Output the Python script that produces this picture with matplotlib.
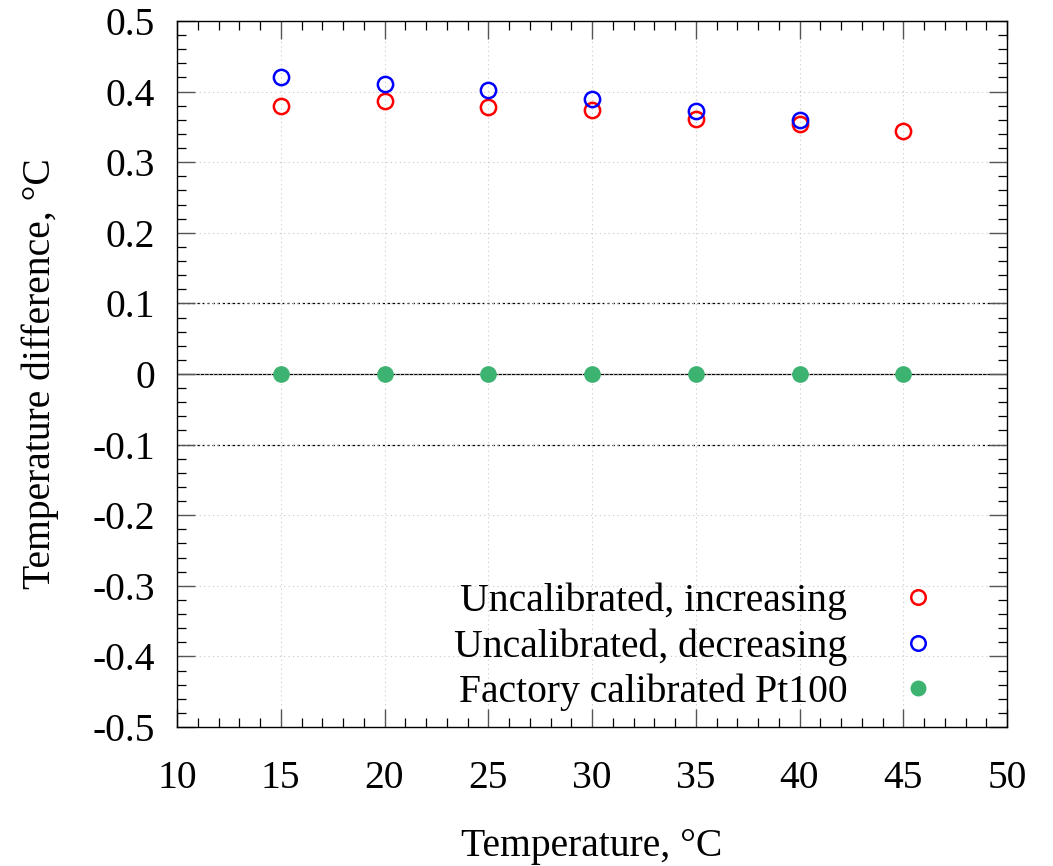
import matplotlib
matplotlib.use("Agg")
import matplotlib.pyplot as plt
from matplotlib.ticker import MultipleLocator

# ----------------------------------------------------------------------
# DATA
# ----------------------------------------------------------------------
temps = [15, 20, 25, 30, 35, 40, 45]
uncal_increasing = [0.380, 0.387, 0.378, 0.374, 0.361, 0.354, 0.344]
temps_decreasing = [15, 20, 25, 30, 35, 40]
uncal_decreasing = [0.421, 0.411, 0.402, 0.390, 0.373, 0.360]
factory_pt100 = [0, 0, 0, 0, 0, 0, 0]

labels = ["Uncalibrated, increasing", "Uncalibrated, decreasing", "Factory calibrated Pt100"]
yticks = [-0.5, -0.4, -0.3, -0.2, -0.1, 0, 0.1, 0.2, 0.3, 0.4, 0.5]
ytick_labels = ["-0.5", "-0.4", "-0.3", "-0.2", "-0.1", "0", "0.1", "0.2", "0.3", "0.4", "0.5"]

plt.rcParams["font.family"] = ["Liberation Serif", "DejaVu Serif"]

FS = 28.5

fig = plt.figure(figsize=(10.53, 8.66), dpi=100)
ax = fig.add_axes([177 / 1053, 1 - 727 / 866, 830 / 1053, 706 / 866])

# reference lines
ax.axhline(0, color="black", lw=0.9, zorder=1)
ax.axhline(0.1, color="black", lw=0.9, ls=(0, (2, 2)), zorder=1)
ax.axhline(-0.1, color="black", lw=0.9, ls=(0, (2, 2)), zorder=1)

ms = 11
ax.plot(temps, uncal_increasing, "o", mfc="none", mec="#ff0000", mew=1.8, ms=ms,
        label=labels[0], zorder=3)
ax.plot(temps_decreasing, uncal_decreasing, "o", mfc="none", mec="#0000ff", mew=1.8, ms=ms,
        label=labels[1], zorder=3)
ax.plot(temps, factory_pt100, "o", mfc="#3cb371", mec="#3cb371", ms=ms,
        label=labels[2], zorder=3)

ax.set_xlim(10, 50)
ax.set_ylim(-0.5, 0.5)
ax.xaxis.set_major_locator(MultipleLocator(5))
ax.xaxis.set_minor_locator(MultipleLocator(1))
ax.yaxis.set_minor_locator(MultipleLocator(0.02))
ax.set_yticks(yticks)
ax.set_yticklabels(ytick_labels)

ax.grid(True, which="major", color="#c8c8c8", ls=(0, (1, 3)), lw=0.8, zorder=0)

ax.tick_params(which="both", direction="in", top=True, right=True, labelsize=FS)
ax.tick_params(which="major", length=13, width=1.0, color="#555555")
ax.tick_params(which="minor", length=6.5, width=0.9, color="black")
ax.tick_params(axis="x", which="major", pad=24)
ax.tick_params(axis="y", which="major", pad=16)
for s in ax.spines.values():
    s.set_linewidth(1.0)

ax.set_xlabel("Temperature, °C", fontsize=FS, labelpad=22)
ax.set_ylabel("Temperature difference, °C", fontsize=FS, labelpad=24)

leg = ax.legend(loc="center right", bbox_to_anchor=(938 / 1053, 1 - 647 / 866),
                bbox_transform=fig.transFigure, frameon=False,
                markerfirst=False, fontsize=FS, handlelength=1.0, handletextpad=1.29,
                labelspacing=0.2, borderaxespad=0, borderpad=0, markerscale=0.95)
for t in leg.get_texts():
    t.set_ha("right")

fig.savefig("out.png", dpi=100)
